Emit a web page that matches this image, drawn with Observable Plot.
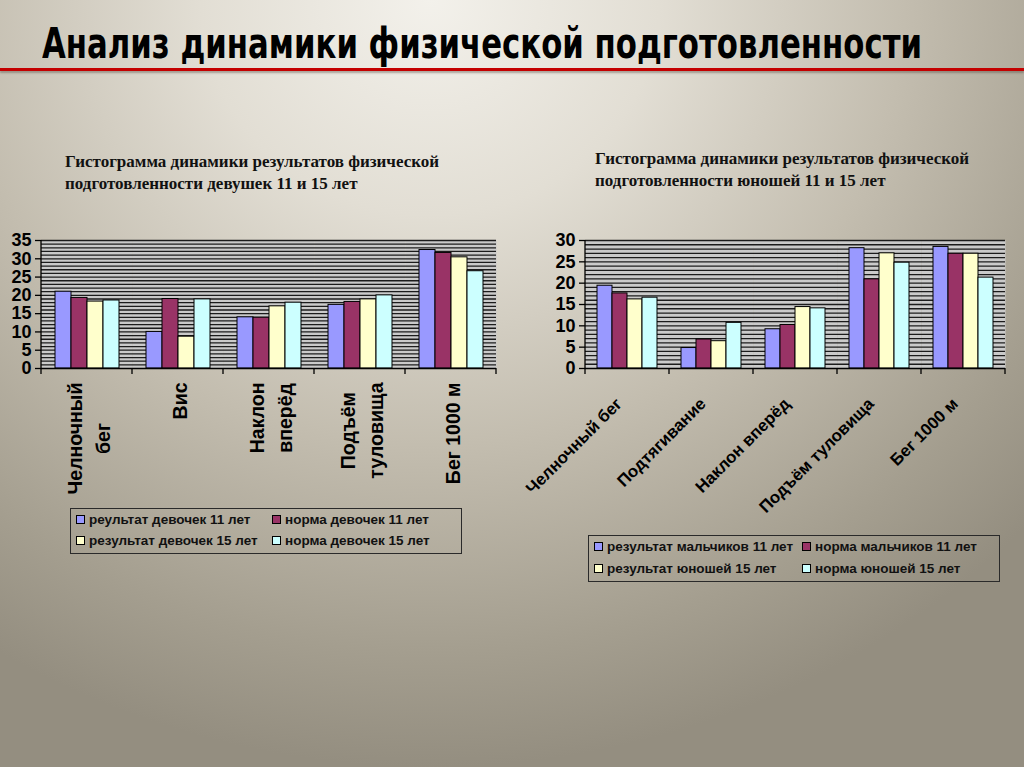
<!DOCTYPE html>
<html>
<head>
<meta charset="utf-8">
<script src="https://cdn.jsdelivr.net/npm/d3@7"></script>
<script src="https://cdn.jsdelivr.net/npm/@observablehq/plot@0.6"></script>
<style>
  html, body { margin: 0; padding: 0; }
  body {
    width: 1024px; height: 767px; overflow: hidden; position: relative;
    background: radial-gradient(ellipse 80% 100% at 42% 0%, #f3f1eb 0%, #e2ded4 28%, #c3bdaf 58%, #a49e8f 85%, #948e80 100%);
    font-family: "Liberation Sans", Arial, sans-serif;
  }
  #title {
    position: absolute; left: 42px; top: 19px;
    font-family: "Liberation Sans Narrow", "DejaVu Sans Condensed", sans-serif;
    font-stretch: condensed; font-weight: bold; font-size: 42px; color: #000;
    white-space: nowrap; transform-origin: left center;
  }
  #redline { position: absolute; left: 0; top: 68px; width: 1024px; height: 3px; background: #c40000; box-shadow: 0 2px 2px rgba(90,80,70,0.45); }
  .sub {
    position: absolute; font-family: "Liberation Serif", "Times New Roman", serif;
    font-weight: bold; font-size: 17px; line-height: 22px; color: #111; white-space: nowrap;
  }
  .chart { position: absolute; }
  .legend {
    position: absolute; border: 1.5px solid #2a2a2a; box-sizing: border-box;
    font-family: "Liberation Sans", Arial, sans-serif; font-weight: bold; font-size: 13.5px; color: #111;
  }
  .legend .item { position: absolute; white-space: nowrap; display: flex; align-items: center; }
  .legend .sw { width: 7px; height: 7px; border: 1px solid #000; margin-right: 4px; display: inline-block; }
</style>
</head>
<body>
<div id="title">Анализ динамики физической подготовленности</div>
<div id="redline"></div>
<div class="sub" style="left:65px; top:151px;">Гистограмма динамики результатов физической<br>подготовленности девушек 11 и 15 лет</div>
<div class="sub" style="left:595px; top:148px;">Гистограмма динамики результатов физической<br>подготовленности юношей 11 и 15 лет</div>
<div id="left" class="chart" style="left:0px; top:225px;"></div>
<div id="right" class="chart" style="left:500px; top:225px;"></div>
<div id="legendLeft" class="legend" style="left:70px; top:508px; width:392px; height:46px;"></div>
<div id="legendRight" class="legend" style="left:588px; top:535px; width:412px; height:47px;"></div>
<script>
// ---- Data ----
const girlCategories = ["Челночный\nбег", "Вис", "Наклон\nвперёд", "Подъём\nтуловища", "Бег 1000 м"];
const girlSeries = ["реультат девочек 11 лет", "норма девочек 11 лет", "результат девочек 15 лет", "норма девочек 15 лет"];
const girlResult11 = [21.0, 10.0, 14.0, 17.4, 32.4];
const girlNorm11   = [19.3, 19.0, 13.9, 18.2, 31.6];
const girlResult15 = [18.3, 8.7, 17.0, 18.9, 30.4];
const girlNorm15   = [18.6, 18.9, 18.0, 20.0, 26.6];
const girlTicks = [0, 5, 10, 15, 20, 25, 30, 35];

const boyCategories = ["Челночный бег", "Подтягивание", "Наклон вперёд", "Подъём туловища", "Бег 1000 м"];
const boySeries = ["результат мальчиков 11 лет", "норма мальчиков 11 лет", "результат юношей 15 лет", "норма юношей 15 лет"];
const boyResult11 = [19.4, 4.8, 9.2, 28.2, 28.5];
const boyNorm11   = [17.6, 6.8, 10.2, 20.9, 26.9];
const boyResult15 = [16.2, 6.4, 14.4, 27.0, 26.9];
const boyNorm15   = [16.6, 10.7, 14.1, 24.8, 21.3];
const boyTicks = [0, 5, 10, 15, 20, 25, 30];

const seriesColors = ["#9999ff", "#993366", "#ffffcc", "#ccffff"];

// ---- Build tables ----
function buildRows(cats, series, valueArrays) {
  const rows = [];
  cats.forEach((c, i) => series.forEach((s, j) => rows.push({cat: c, series: s, value: valueArrays[j][i]})));
  return rows;
}
const girlRows = buildRows(girlCategories, girlSeries, [girlResult11, girlNorm11, girlResult15, girlNorm15]);
const boyRows = buildRows(boyCategories, boySeries, [boyResult11, boyNorm11, boyResult15, boyNorm15]);

function makeChart({rows, cats, series, ticks, width, height, marginLeft, marginRight, marginTop, marginBottom, fxAxis}) {
  const ymax = ticks[ticks.length - 1];
  const plot = Plot.plot({
    width, height, marginLeft, marginRight, marginTop, marginBottom,
    style: {background: "transparent", overflow: "visible", fontFamily: "Liberation Sans, Arial, sans-serif"},
    fx: {domain: cats, paddingInner: 0, paddingOuter: 0, label: null},
    x: {domain: series, paddingInner: 0, paddingOuter: 0.73, axis: null},
    y: {domain: [0, ymax], label: null},
    color: {domain: series, range: seriesColors},
    marks: [
      Plot.frame({fill: "#cacaca", stroke: "none"}),
      Plot.gridY(d3.range(1, ymax + 1), {stroke: "#1c1c1c", strokeOpacity: 1, strokeWidth: 1.3}),
      Plot.barY(rows, {fx: "cat", x: "series", y: "value", fill: "series", stroke: "#000", strokeWidth: 1}),
      Plot.ruleY([0], {stroke: "#000", strokeWidth: 1.5}),
      Plot.axisY({ticks, tickSize: 6, tickPadding: 4, fontSize: 18, fontWeight: "bold", label: null, stroke: "#000", strokeWidth: 1.3}),
      Plot.axisFx({anchor: "bottom", ...fxAxis})
    ]
  });
  // axis line and category boundary ticks drawn from the plot's own scales
  const fx = plot.scale("fx"), y = plot.scale("y");
  const svg = d3.select(plot.tagName === "svg" ? plot : plot.querySelector("svg"));
  const g = svg.append("g").attr("stroke", "#000").attr("stroke-width", 1.3);
  const y0 = y.apply(0), y1 = y.apply(ymax);
  const xs = cats.map(c => fx.apply(c));
  xs.push(fx.apply(cats[cats.length - 1]) + fx.bandwidth);
  g.append("line").attr("x1", xs[0]).attr("x2", xs[0]).attr("y1", y1).attr("y2", y0);
  xs.forEach(x => g.append("line").attr("x1", x).attr("x2", x).attr("y1", y0).attr("y2", y0 + 6));
  return plot;
}

const leftPlot = makeChart({
  rows: girlRows, cats: girlCategories, series: girlSeries, ticks: girlTicks,
  width: 505, height: 268, marginLeft: 39, marginRight: 8, marginTop: 15, marginBottom: 125,
  fxAxis: {rotate: -90, textAnchor: "end", lineAnchor: "middle", tickSize: 0, tickPadding: 14, fontSize: 19.5, fontWeight: "bold", label: null, lineHeight: 1.45}
});
document.getElementById("left").appendChild(leftPlot);

const rightPlot = makeChart({
  rows: boyRows, cats: boyCategories, series: boySeries, ticks: boyTicks,
  width: 515, height: 283, marginLeft: 83, marginRight: 8, marginTop: 15, marginBottom: 140,
  fxAxis: {rotate: -45, textAnchor: "end", lineAnchor: "top", tickSize: 0, tickPadding: 28, dx: -13, fontSize: 16.8, fontWeight: "bold", label: null}
});
document.getElementById("right").appendChild(rightPlot);

// center shorter lines of multi-line rotated labels (Excel style)
d3.select(leftPlot).selectAll('g[aria-label="fx-axis tick label"] text').each(function () {
  const spans = d3.select(this).selectAll("tspan").nodes();
  if (spans.length < 2) return;
  const lens = spans.map(s => s.getComputedTextLength());
  const m = Math.max(...lens);
  spans.forEach((s, i) => s.setAttribute("x", -(m - lens[i]) / 2));
});

// ---- Legends ----
function legend(el, series, positions) {
  series.forEach((s, i) => {
    const d = document.createElement("div");
    d.className = "item";
    d.style.left = positions[i][0] + "px";
    d.style.top = positions[i][1] + "px";
    d.innerHTML = `<span class="sw" style="background:${seriesColors[i]}"></span>${s}`;
    el.appendChild(d);
  });
}
legend(document.getElementById("legendLeft"), girlSeries, [[5, 3], [201, 3], [5, 24], [201, 24]]);
legend(document.getElementById("legendRight"), boySeries, [[5, 3], [213, 3], [5, 25], [213, 25]]);

// fit title width to the reference span
const t = document.getElementById("title");
const w = t.getBoundingClientRect().width;
t.style.transform = `scaleX(${880 / w})`;
</script>
</body>
</html>
